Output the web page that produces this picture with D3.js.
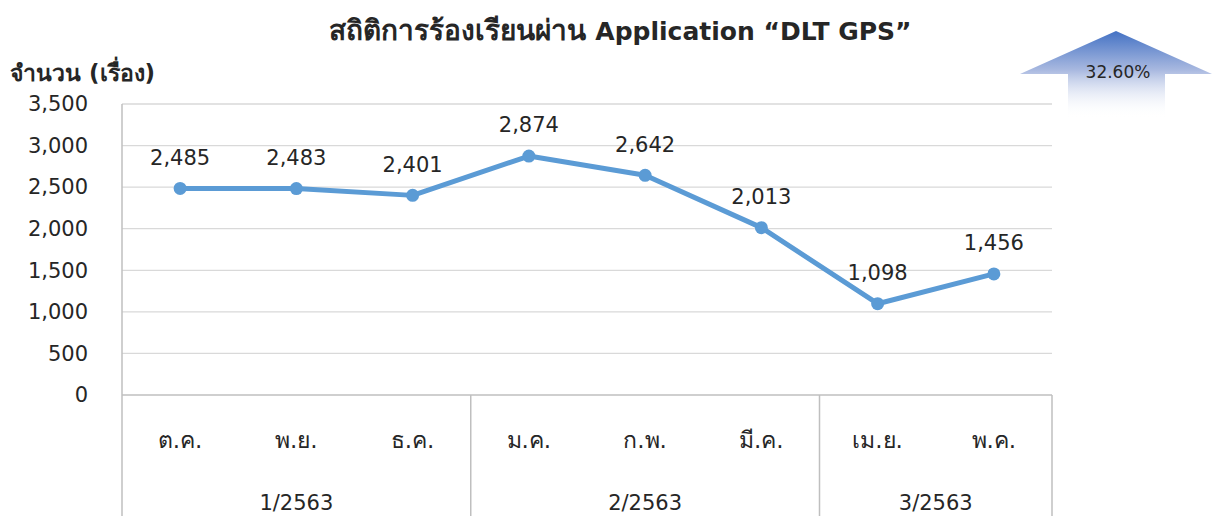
<!DOCTYPE html>
<html>
<head>
<meta charset="utf-8">
<script src="https://cdn.jsdelivr.net/npm/d3@7"></script>
<style>
  body { margin: 0; background: #fff; }
  svg text { font-family: Tahoma, "DejaVu Sans", "Noto Sans", sans-serif; fill: #262626; }
</style>
</head>
<body>
<div id="chart"></div>
<script>
// data
const months = ["ต.ค.", "พ.ย.", "ธ.ค.", "ม.ค.", "ก.พ.", "มี.ค.", "เม.ย.", "พ.ค."];
const quarters = ["1/2563", "2/2563", "3/2563"];
const quarterSize = [3, 3, 2];
const complaints = [2485, 2483, 2401, 2874, 2642, 2013, 1098, 1456];
const yTicks = [0, 500, 1000, 1500, 2000, 2500, 3000, 3500];
const change = "32.60%";

const W = 1213, H = 516;
const plotL = 122, plotR = 1052, plotT = 104, plotB = 395;

const svg = d3.select("#chart").append("svg")
  .attr("width", W).attr("height", H);

const x = d3.scaleBand().domain(d3.range(months.length)).range([plotL, plotR]);
const y = d3.scaleLinear().domain([0, 3500]).range([plotB, plotT]);
const fmt = d3.format(",");

// gridlines
svg.append("g").selectAll("line").data(yTicks.slice(1)).join("line")
  .attr("x1", plotL).attr("x2", plotR)
  .attr("y1", d => y(d)).attr("y2", d => y(d))
  .attr("stroke", "#d9d9d9").attr("stroke-width", 1.3);

// y tick labels
svg.append("g").selectAll("text").data(yTicks).join("text")
  .attr("x", 88).attr("y", d => y(d)).attr("dy", "0.35em")
  .attr("text-anchor", "end").attr("font-size", 21)
  .text(d => fmt(d));

// category axis lines
const axisCol = "#bfbfbf";
svg.append("line").attr("x1", plotL).attr("x2", plotL).attr("y1", plotT).attr("y2", H)
  .attr("stroke", axisCol).attr("stroke-width", 1.5);
svg.append("line").attr("x1", plotL).attr("x2", plotR).attr("y1", plotB).attr("y2", plotB)
  .attr("stroke", axisCol).attr("stroke-width", 1.5);

let acc = 0;
const qPos = quarters.map((q, i) => {
  const start = acc; acc += quarterSize[i];
  return { q, start, end: acc };
});
svg.append("g").selectAll("line").data(qPos).join("line")
  .attr("x1", d => x(d.end - 1) + x.bandwidth()).attr("x2", d => x(d.end - 1) + x.bandwidth())
  .attr("y1", plotB).attr("y2", H)
  .attr("stroke", axisCol).attr("stroke-width", 1.5);

svg.append("g").selectAll("text").data(months).join("text")
  .attr("x", (d, i) => x(i) + x.bandwidth() / 2).attr("y", 440).attr("dy", "0.35em")
  .attr("text-anchor", "middle").attr("font-size", 23)
  .text(d => d);

svg.append("g").selectAll("text").data(qPos).join("text")
  .attr("x", d => (x(d.start) + x(d.end - 1) + x.bandwidth()) / 2).attr("y", 503).attr("dy", "0.35em")
  .attr("text-anchor", "middle").attr("font-size", 21)
  .text(d => d.q);

// line
const line = d3.line().x((d, i) => x(i) + x.bandwidth() / 2).y(d => y(d));
svg.append("path").datum(complaints)
  .attr("d", line).attr("fill", "none")
  .attr("stroke", "#5b9bd5").attr("stroke-width", 5).attr("stroke-linejoin", "round");

svg.append("g").selectAll("circle").data(complaints).join("circle")
  .attr("cx", (d, i) => x(i) + x.bandwidth() / 2).attr("cy", d => y(d)).attr("r", 6.5)
  .attr("fill", "#5b9bd5");

svg.append("g").selectAll("text").data(complaints).join("text")
  .attr("x", (d, i) => x(i) + x.bandwidth() / 2).attr("y", d => y(d) - 31).attr("dy", "0.35em")
  .attr("text-anchor", "middle").attr("font-size", 21)
  .text(d => fmt(d));

// titles
const title = svg.append("text").attr("x", 620).attr("y", 31).attr("dy", "0.35em")
  .attr("text-anchor", "middle").attr("font-weight", "bold").attr("font-size", 25);
title.append("tspan").attr("font-size", 28).text("สถิติการร้องเรียนผ่าน ");
title.append("tspan").text("Application “DLT GPS”");

svg.append("text").attr("x", 10).attr("y", 73).attr("dy", "0.35em")
  .attr("font-size", 23).attr("font-weight", "bold")
  .text("จำนวน (เรื่อง)");

// arrow
const defs = svg.append("defs");
const grad = defs.append("linearGradient").attr("id", "arrowGrad")
  .attr("x1", 0).attr("y1", 0).attr("x2", 0).attr("y2", 1);
grad.append("stop").attr("offset", "0%").attr("stop-color", "#4472c4");
grad.append("stop").attr("offset", "45%").attr("stop-color", "#a9b9e0");
grad.append("stop").attr("offset", "100%").attr("stop-color", "#ffffff").attr("stop-opacity", 0);

svg.append("path")
  .attr("d", "M1116,31 L1212,74 L1165,74 L1165,118 L1068,118 L1068,74 L1020,74 Z")
  .attr("fill", "url(#arrowGrad)");
svg.append("text").attr("x", 1118).attr("y", 72).attr("dy", "0.35em")
  .attr("text-anchor", "middle").attr("font-size", 17)
  .text(change);
</script>
</body>
</html>
